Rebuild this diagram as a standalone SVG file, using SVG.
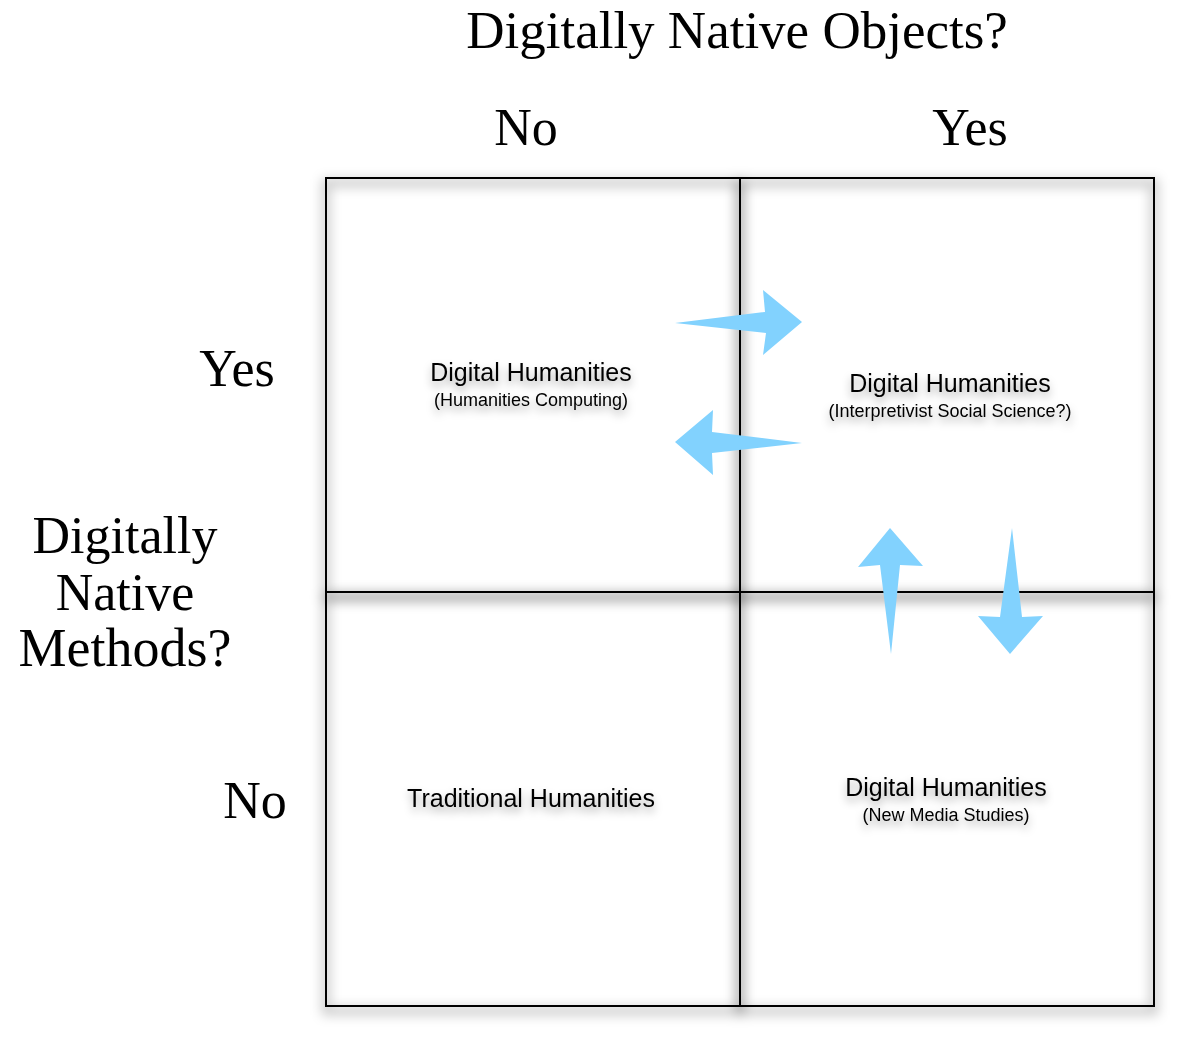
<svg xmlns="http://www.w3.org/2000/svg" width="1177" height="1037" viewBox="0 0 1177 1037">
<defs>
<filter id="boxShadow" x="-10%" y="-10%" width="120%" height="120%">
<feGaussianBlur in="SourceAlpha" stdDeviation="6" result="b"/>
<feOffset in="b" dy="5" result="o"/>
<feMerge><feMergeNode in="o"/></feMerge>
</filter>
<filter id="textShadow" x="-20%" y="-60%" width="140%" height="220%">
<feDropShadow dx="0" dy="5" stdDeviation="4" flood-color="#000" flood-opacity="0.35"/>
</filter>
<style>
.cell{fill:none;stroke:#000;stroke-width:2}
.shadowline{fill:none;stroke:#000;stroke-width:8;stroke-opacity:0.22}
.big{font-family:"Liberation Serif","Times New Roman",serif;font-size:52px;fill:#000;text-anchor:middle}
.lbl{font-family:"Liberation Sans",Arial,sans-serif;font-size:25px;fill:#000;text-anchor:middle}
.sub{font-family:"Liberation Sans",Arial,sans-serif;font-size:18px;fill:#000;text-anchor:middle}
.arrow{fill:#82d2fe}
</style>
</defs>
<rect width="1177" height="1037" fill="#fff"/>
<g id="grid-shadow" filter="url(#boxShadow)">
<rect class="shadowline" x="326" y="178" width="414" height="414"/>
<rect class="shadowline" x="740" y="178" width="414" height="414"/>
<rect class="shadowline" x="326" y="592" width="414" height="414"/>
<rect class="shadowline" x="740" y="592" width="414" height="414"/>
</g>
<g id="cell-tl"><rect class="cell" x="326" y="178" width="414" height="414"/>
<g filter="url(#textShadow)"><text class="lbl" x="531" y="381">Digital Humanities</text><text class="sub" x="531" y="406">(Humanities Computing)</text></g></g>
<g id="cell-tr"><rect class="cell" x="740" y="178" width="414" height="414"/>
<g filter="url(#textShadow)"><text class="lbl" x="950" y="392">Digital Humanities</text><text class="sub" x="950" y="417">(Interpretivist Social Science?)</text></g></g>
<g id="cell-bl"><rect class="cell" x="326" y="592" width="414" height="414"/>
<g filter="url(#textShadow)"><text class="lbl" x="531" y="807">Traditional Humanities</text></g></g>
<g id="cell-br"><rect class="cell" x="740" y="592" width="414" height="414"/>
<g filter="url(#textShadow)"><text class="lbl" x="946" y="796">Digital Humanities</text><text class="sub" x="946" y="821">(New Media Studies)</text></g></g>
<g id="labels">
<text class="big" x="737" y="48" style="font-size:53px">Digitally Native Objects?</text>
<text class="big" x="526" y="145">No</text>
<text class="big" x="970" y="145">Yes</text>
<text class="big" x="237" y="386">Yes</text>
<text class="big" x="255" y="818">No</text>
<text class="big" x="125" y="553">Digitally</text>
<text class="big" x="125" y="610">Native</text>
<text class="big" x="125" y="666" style="font-size:54px">Methods?</text>
</g>
<g id="connectors">
<polygon class="arrow" points="675,323 765,312 763,290 802,322 763,355 766,333"/>
<polygon class="arrow" points="675,442 713,410 712,432 802,443 712,453 713,475"/>
<polygon class="arrow" points="890,528 858,567 880,565 891,654 900,565 923,566"/>
<polygon class="arrow" points="1012,528 1022,617 1043,616 1010,654 978,616 1000,617"/>
</g>
</svg>
